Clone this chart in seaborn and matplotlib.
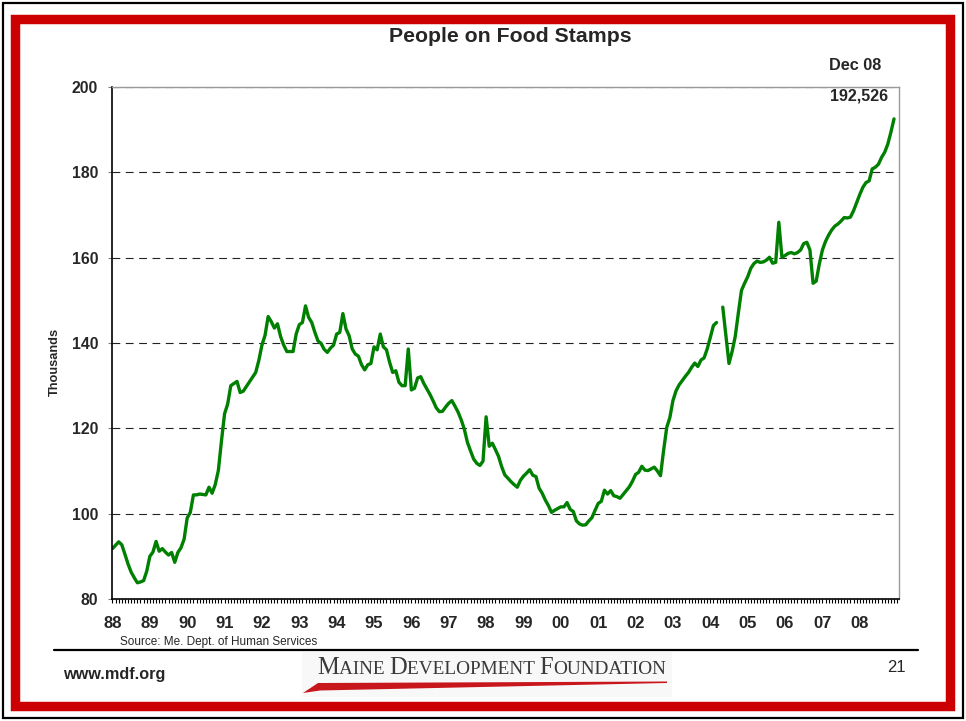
import numpy as np
import pandas as pd
import matplotlib
matplotlib.use("Agg")
import matplotlib.pyplot as plt
import seaborn as sns
from matplotlib.patches import Rectangle, Polygon
from matplotlib.lines import Line2D

# ---------------- data ----------------
year_labels = ["88", "89", "90", "91", "92", "93", "94", "95", "96", "97", "98",
               "99", "00", "01", "02", "03", "04", "05", "06", "07", "08"]

# monthly people on food stamps (thousands), Jan 1988 .. Dec 2008 (None = missing month)
food_stamps_thousands = [
    91.8, 92.6, 93.4, 92.7, 90.5, 88.2, 86.3, 85.0, 83.8, 84.0, 84.3, 86.5,           # 88
    90.0, 91.0, 93.5, 91.2, 91.8, 91.0, 90.3, 90.9, 88.6, 90.9, 92.0, 94.0,           # 89
    99.0, 100.3, 104.4, 104.4, 104.6, 104.5, 104.4, 106.2, 104.8, 106.8, 110.1, 117.0,  # 90
    123.4, 125.7, 130.0, 130.5, 131.0, 128.4, 128.7, 129.8, 130.9, 132.0, 133.1, 135.9,  # 91
    139.5, 141.8, 146.2, 145.0, 143.5, 144.5, 141.5, 139.5, 138.0, 138.0, 138.0, 142.1,  # 92
    144.3, 144.8, 148.7, 146.0, 144.8, 142.5, 140.5, 139.9, 138.5, 137.8, 138.8, 139.5,  # 93
    142.1, 142.5, 146.9, 143.3, 141.7, 138.6, 137.4, 136.9, 134.9, 133.7, 134.9, 135.2,  # 94
    139.1, 138.4, 142.1, 139.1, 138.4, 135.5, 133.1, 133.5, 130.8, 130.0, 130.0, 138.6,  # 95
    129.0, 129.4, 131.8, 132.1, 130.5, 129.2, 127.9, 126.4, 124.8, 123.9, 124.0, 125.0,  # 96
    125.9, 126.5, 125.2, 123.8, 122.0, 119.8, 116.7, 114.7, 112.8, 111.8, 111.3, 112.3,  # 97
    122.7, 115.8, 116.5, 115.0, 113.4, 111.0, 109.1, 108.3, 107.5, 106.8, 106.2, 107.8,  # 98
    108.8, 109.5, 110.3, 109.0, 108.7, 106.0, 104.8, 103.2, 101.9, 100.3, 100.8, 101.2,  # 99
    101.6, 101.6, 102.6, 101.0, 100.5, 98.3, 97.6, 97.3, 97.4, 98.3, 99.1, 100.8,      # 00
    102.4, 102.9, 105.5, 104.6, 105.4, 104.2, 104.0, 103.6, 104.5, 105.4, 106.3, 107.6,  # 01
    109.2, 109.7, 111.1, 110.2, 110.1, 110.5, 110.9, 110.0, 108.9, 114.8, 120.2, 122.5,  # 02
    126.5, 128.8, 130.2, 131.2, 132.2, 133.1, 134.3, 135.3, 134.5, 136.0, 136.5, 138.6,  # 03
    141.3, 144.1, 144.8, None, 148.4, 141.8, 135.2, 138.0, 141.5, 147.0, 152.3, 154.0,  # 04
    155.5, 157.5, 158.6, 159.2, 158.9, 159.0, 159.4, 160.1, 158.7, 158.9, 168.3, 160.1,  # 05
    160.5, 161.0, 161.2, 160.9, 161.2, 161.8, 163.3, 163.6, 161.8, 154.0, 154.5, 158.5,  # 06
    161.8, 163.8, 165.3, 166.5, 167.4, 167.9, 168.6, 169.4, 169.3, 169.5, 171.0, 172.9,  # 07
    174.8, 176.5, 177.6, 178.0, 180.8, 181.2, 181.9, 183.5, 184.7, 186.6, 189.4, 192.526,  # 08
]
last_label = "Dec 08"
last_count = 192526
y_ticks = [80, 100, 120, 140, 160, 180, 200]

# ---------------- layout helpers ----------------
W, H = 966, 721
def fx(x):
    return x / W
def fy(y):
    return 1 - y / H

sns.set_theme(style="white")
plt.rcParams['font.family'] = ['Liberation Sans', 'DejaVu Sans']

fig = plt.figure(figsize=(W / 100, H / 100), dpi=100)
fig.patch.set_facecolor("white")

# outer black frame and red frame
fig.add_artist(Rectangle((fx(3), fy(718)), 960 / W, 715 / H, transform=fig.transFigure,
                         fill=False, edgecolor="black", lw=1.6))
fig.add_artist(Rectangle((fx(15), fy(706)), (949.5 - 15) / W, (706 - 19) / H,
                         transform=fig.transFigure, fill=False, edgecolor="#cc0000", lw=6.8))

# ---------------- chart ----------------
ax = fig.add_axes([fx(112), fy(599), (899 - 112) / W, (599 - 87) / H])

df = pd.DataFrame({"month": np.arange(len(food_stamps_thousands)),
                   "thousands": pd.to_numeric(pd.Series(food_stamps_thousands), errors="coerce")})
df["segment"] = df["thousands"].isna().cumsum()
df = df.dropna()

sns.lineplot(data=df, x="month", y="thousands", units="segment", estimator=None,
             color="#008000", lw=2.4, ax=ax, legend=False)

ax.set_xlim(-0.15, 252.6)
ax.set_ylim(80, 200)
ax.set_xlabel("")
ax.set_ylabel("")

ax.set_yticks(y_ticks)
ax.set_yticklabels([str(v) for v in y_ticks], fontsize=11.3, fontweight="bold")
ax.set_xticks(np.arange(0, 12 * len(year_labels), 12))
ax.set_xticklabels(year_labels, fontsize=12, fontweight="bold")
ax.set_xticks(np.arange(0, 253), minor=True)

ax.tick_params(axis="x", which="both", bottom=True, direction="out", length=3,
               width=0.8, color="black", pad=9)
ax.tick_params(axis="y", which="major", left=True, direction="out", length=3,
               width=0.8, color="#808080", pad=7)

ax.grid(False)
for v in y_ticks[1:]:
    ax.axhline(v, color="#222222", lw=0.8, linestyle=(0, (7, 5)), zorder=0.5)

for side in ["left", "bottom"]:
    ax.spines[side].set_color("black")
    ax.spines[side].set_linewidth(1.2)
for side in ["top", "right"]:
    ax.spines[side].set_color("#9a9a9a")
    ax.spines[side].set_linewidth(1.0)
ax.set_facecolor("white")

# ---------------- texts ----------------
fig.text(fx(510), fy(37), "People on Food Stamps", ha="center", va="center",
         fontsize=15.3, fontweight="bold")
fig.text(fx(855), fy(66), last_label, ha="center", va="center", fontsize=11.7, fontweight="bold")
fig.text(fx(859), fy(96), f"{last_count:,}", ha="center", va="center", fontsize=11.6,
         fontweight="bold")
fig.text(fx(55), fy(362), "Thousands", ha="center", va="center", rotation=90,
         fontsize=9.2, fontweight="bold")
fig.text(fx(120), fy(642.5), "Source: Me. Dept. of Human Services", ha="left", va="center",
         fontsize=8.5)

fig.add_artist(Line2D([fx(54), fx(918)], [fy(649.5), fy(649.5)], color="black", lw=1.6,
                      transform=fig.transFigure))
fig.text(fx(63), fy(674), "www.mdf.org", ha="left", va="center", fontsize=11.7, fontweight="bold")
fig.text(fx(896), fy(668), "21", ha="center", va="center", fontsize=12)

# ---------------- logo ----------------
fig.add_artist(Rectangle((fx(302), fy(697)), (672 - 302) / W, (697 - 652) / H,
                         transform=fig.transFigure, facecolor="#f8f8f8", edgecolor="none"))
fig.add_artist(Polygon([(fx(303), fy(693)), (fx(318), fy(683)), (fx(667), fy(681.5)),
                        (fx(667), fy(683.0)), (fx(320), fy(690.5))], closed=True,
                       transform=fig.transFigure, facecolor="#c8161d", edgecolor="none"))

pieces = [("M", 1.0), ("AINE ", 0.78), ("D", 1.0), ("EVELOPMENT ", 0.78),
          ("F", 1.0), ("OUNDATION", 0.78)]
renderer = fig.canvas.get_renderer()

def draw_logo(size):
    arts = []
    x = 317.0
    for txt, scale in pieces:
        t = fig.text(fx(x), fy(673.5), txt, ha="left", va="baseline",
                     fontsize=size * scale, family=["Liberation Serif", "DejaVu Serif"],
                     color="#3a3a3a")
        bb = t.get_window_extent(renderer=renderer)
        x += bb.width
        arts.append(t)
    return arts, x - 317.0

arts, width = draw_logo(17)
for a in arts:
    a.remove()
arts, width = draw_logo(17 * 350.0 / width)

fig.savefig("out.png", dpi=100, facecolor="white")
